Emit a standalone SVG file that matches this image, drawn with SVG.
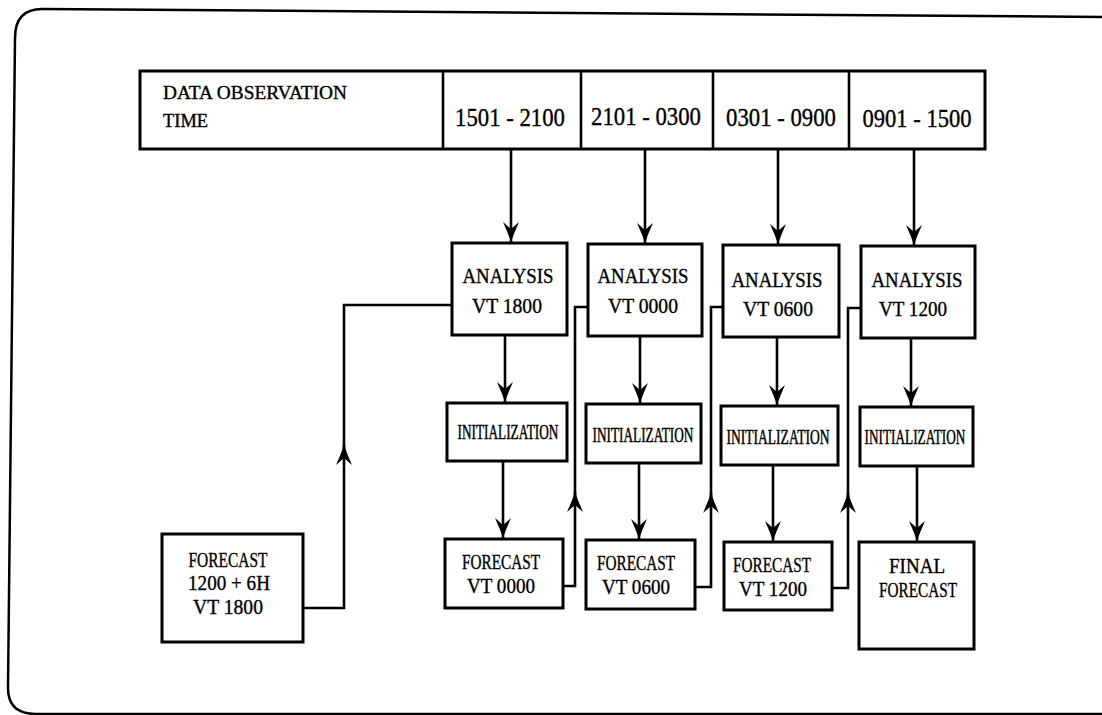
<svg xmlns="http://www.w3.org/2000/svg" width="1102" height="715" viewBox="0 0 1102 715">
<style>
.box{fill:#fff;stroke:#000;stroke-width:3}
.ln{fill:none;stroke:#000;stroke-width:2.6}
text{font-family:'Liberation Serif','DejaVu Serif','Times New Roman',serif;fill:#000;stroke:#000;stroke-width:0.35;text-anchor:middle}
.s{font-size:20px}
.b{font-size:25px}
.h{font-size:18px;text-anchor:start}
.i{font-size:20px;stroke-width:0.45}
</style>
<defs>
<marker id="ah" markerUnits="userSpaceOnUse" viewBox="-21 -9 22 18" refX="0" refY="0" markerWidth="22" markerHeight="18" orient="auto">
<path d="M0,0 Q-9,-3 -20,-8 L-13,0 L-20,8 Q-9,3 0,0 Z" fill="#000"/>
</marker>
</defs>
<rect width="1102" height="715" fill="#fff"/>
<path d="M1102,17 L42,9 Q15,9 15,38 L8,688 Q8,714 36,714 L1102,714" fill="none" stroke="#000" stroke-width="2.5"/>

<g id="header">
<rect class="box" x="140" y="71" width="845" height="78"/>
<line class="ln" x1="443" y1="71" x2="443" y2="149" stroke-width="3"/>
<line class="ln" x1="581" y1="71" x2="581" y2="149" stroke-width="3"/>
<line class="ln" x1="713" y1="71" x2="713" y2="149" stroke-width="3"/>
<line class="ln" x1="849" y1="71" x2="849" y2="149" stroke-width="3"/>
<text class="h" x="163" y="99" textLength="184" lengthAdjust="spacingAndGlyphs">DATA OBSERVATION</text>
<text class="h" x="163" y="127" textLength="45" lengthAdjust="spacingAndGlyphs">TIME</text>
<text class="b" x="510" y="126" textLength="110" lengthAdjust="spacingAndGlyphs">1501 - 2100</text>
<text class="b" x="646" y="125" textLength="110" lengthAdjust="spacingAndGlyphs">2101 - 0300</text>
<text class="b" x="781" y="126" textLength="110" lengthAdjust="spacingAndGlyphs">0301 - 0900</text>
<text class="b" x="917" y="127" textLength="109" lengthAdjust="spacingAndGlyphs">0901 - 1500</text>
</g>

<g id="analysis1">
<rect class="box" x="452" y="243" width="115" height="92"/>
<text class="s" x="508" y="283" textLength="91" lengthAdjust="spacingAndGlyphs">ANALYSIS</text>
<text class="s" x="507" y="313" textLength="70" lengthAdjust="spacingAndGlyphs">VT 1800</text>
</g>
<g id="analysis2">
<rect class="box" x="588" y="244" width="114" height="92"/>
<text class="s" x="643" y="283" textLength="91" lengthAdjust="spacingAndGlyphs">ANALYSIS</text>
<text class="s" x="643" y="313" textLength="70" lengthAdjust="spacingAndGlyphs">VT 0000</text>
</g>
<g id="analysis3">
<rect class="box" x="723" y="245" width="116" height="92"/>
<text class="s" x="777" y="287" textLength="91" lengthAdjust="spacingAndGlyphs">ANALYSIS</text>
<text class="s" x="778" y="316" textLength="70" lengthAdjust="spacingAndGlyphs">VT 0600</text>
</g>
<g id="analysis4">
<rect class="box" x="861" y="246" width="114" height="92"/>
<text class="s" x="917" y="287" textLength="91" lengthAdjust="spacingAndGlyphs">ANALYSIS</text>
<text class="s" x="913" y="316" textLength="68" lengthAdjust="spacingAndGlyphs">VT 1200</text>
</g>

<g id="init1">
<rect class="box" x="447" y="403" width="120" height="58"/>
<text class="i" transform="translate(508,439) scale(0.7,1)" textLength="144" lengthAdjust="spacingAndGlyphs">INITIALIZATION</text>
</g>
<g id="init2">
<rect class="box" x="586" y="404" width="115" height="59"/>
<text class="i" transform="translate(643,442) scale(0.7,1)" textLength="144" lengthAdjust="spacingAndGlyphs">INITIALIZATION</text>
</g>
<g id="init3">
<rect class="box" x="721" y="406" width="117" height="59"/>
<text class="i" transform="translate(778,444) scale(0.7,1)" textLength="147" lengthAdjust="spacingAndGlyphs">INITIALIZATION</text>
</g>
<g id="init4">
<rect class="box" x="860" y="407" width="113" height="59"/>
<text class="i" transform="translate(915,444) scale(0.7,1)" textLength="144" lengthAdjust="spacingAndGlyphs">INITIALIZATION</text>
</g>

<g id="forecast0">
<rect class="box" x="162" y="534" width="141" height="108"/>
<text class="s" x="228" y="567" textLength="79" lengthAdjust="spacingAndGlyphs">FORECAST</text>
<text class="s" x="229" y="590" textLength="82" lengthAdjust="spacingAndGlyphs">1200 + 6H</text>
<text class="s" x="228" y="614" textLength="70" lengthAdjust="spacingAndGlyphs">VT 1800</text>
</g>
<g id="forecast1">
<rect class="box" x="445" y="539" width="118" height="69"/>
<text class="s" x="501" y="569" textLength="78" lengthAdjust="spacingAndGlyphs">FORECAST</text>
<text class="s" x="501" y="593" textLength="68" lengthAdjust="spacingAndGlyphs">VT 0000</text>
</g>
<g id="forecast2">
<rect class="box" x="586" y="540" width="109" height="69"/>
<text class="s" x="636" y="570" textLength="78" lengthAdjust="spacingAndGlyphs">FORECAST</text>
<text class="s" x="636" y="594" textLength="68" lengthAdjust="spacingAndGlyphs">VT 0600</text>
</g>
<g id="forecast3">
<rect class="box" x="724" y="542" width="108" height="68"/>
<text class="s" x="772" y="572" textLength="78" lengthAdjust="spacingAndGlyphs">FORECAST</text>
<text class="s" x="773" y="596" textLength="68" lengthAdjust="spacingAndGlyphs">VT 1200</text>
</g>
<g id="final">
<rect class="box" x="859" y="542" width="115" height="107"/>
<text class="s" x="917" y="573" textLength="56" lengthAdjust="spacingAndGlyphs">FINAL</text>
<text class="s" x="918" y="597" textLength="78" lengthAdjust="spacingAndGlyphs">FORECAST</text>
</g>

<g id="connectors">
<path class="ln" d="M511,149 V242" marker-end="url(#ah)"/>
<path class="ln" d="M645,149 V243" marker-end="url(#ah)"/>
<path class="ln" d="M778,149 V244" marker-end="url(#ah)"/>
<path class="ln" d="M914,149 V245" marker-end="url(#ah)"/>

<path class="ln" d="M505,335 V402" marker-end="url(#ah)"/>
<path class="ln" d="M640,336 V403" marker-end="url(#ah)"/>
<path class="ln" d="M777,337 V405" marker-end="url(#ah)"/>
<path class="ln" d="M911,338 V406" marker-end="url(#ah)"/>

<path class="ln" d="M503,461 V538" marker-end="url(#ah)"/>
<path class="ln" d="M639,463 V539" marker-end="url(#ah)"/>
<path class="ln" d="M773,465 V541" marker-end="url(#ah)"/>
<path class="ln" d="M917,466 V541" marker-end="url(#ah)"/>

<path class="ln" d="M303,608 H344 V445" marker-end="url(#ah)"/>
<path class="ln" d="M344,450 V305 H452"/>
<path class="ln" d="M563,586 H575 V492" marker-end="url(#ah)"/>
<path class="ln" d="M575,497 V307 H588"/>
<path class="ln" d="M695,587 H711 V493" marker-end="url(#ah)"/>
<path class="ln" d="M711,498 V307 H723"/>
<path class="ln" d="M832,588 H848 V493" marker-end="url(#ah)"/>
<path class="ln" d="M848,498 V308 H861"/>
</g>
</svg>
